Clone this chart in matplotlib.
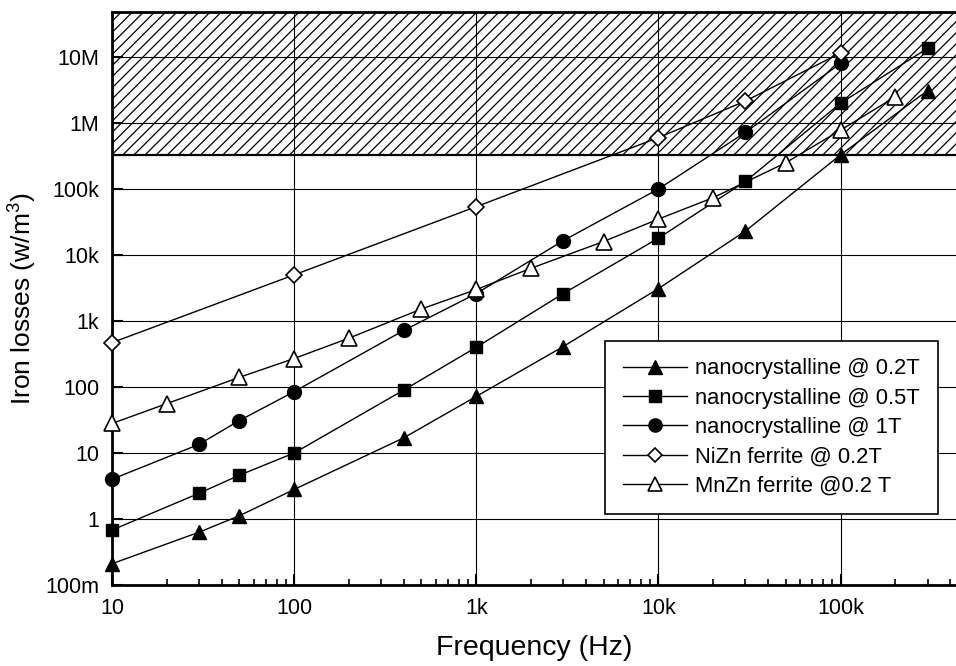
import matplotlib.pyplot as plt
from matplotlib.ticker import FixedLocator, FixedFormatter, LogLocator, NullLocator

plt.rcParams['font.family'] = ['Liberation Sans', 'DejaVu Sans']
plt.rcParams['mathtext.fontset'] = 'custom'
plt.rcParams['mathtext.rm'] = 'Liberation Sans'
plt.rcParams['hatch.linewidth'] = 0.9

# --- DATA ---
f_nano02 = [10, 30, 50, 100, 400, 1e3, 3e3, 1e4, 3e4, 1e5, 3e5]
p_nano02 = [0.21, 0.63, 1.12, 2.8, 17, 72, 410, 3100, 23000, 330000, 3.1e6]

f_nano05 = [10, 30, 50, 100, 400, 1e3, 3e3, 1e4, 3e4, 1e5, 3e5]
p_nano05 = [0.68, 2.45, 4.6, 10, 90, 400, 2600, 18000, 130000, 2.0e6, 13.5e6]

f_nano1 = [10, 30, 50, 100, 400, 1e3, 3e3, 1e4, 3e4, 1e5]
p_nano1 = [4.0, 13.5, 31, 85, 720, 2600, 16500, 100000, 720000, 8.0e6]

f_nizn = [10, 100, 1e3, 1e4, 3e4, 1e5]
p_nizn = [470, 5000, 54000, 600000, 2.15e6, 11.5e6]

f_mnzn = [10, 20, 50, 100, 200, 500, 1e3, 2e3, 5e3, 1e4, 2e4, 5e4, 1e5, 2e5]
p_mnzn = [28, 56, 140, 270, 550, 1520, 3000, 6300, 16000, 35000, 74000, 250000, 780000, 2.5e6]

labels = ['nanocrystalline @ 0.2T', 'nanocrystalline @ 0.5T',
          'nanocrystalline @ 1T', 'NiZn ferrite @ 0.2T', 'MnZn ferrite @0.2 T']

x_ticks = [10, 100, 1e3, 1e4, 1e5]
x_ticklabels = ['10', '100', '1k', '10k', '100k']
y_ticks = [0.1, 1, 10, 100, 1e3, 1e4, 1e5, 1e6, 1e7]
y_ticklabels = ['100m', '1', '10', '100', '1k', '10k', '100k', '1M', '10M']

HATCH_LOW = 3.3e5

# --- PLOT ---
fig = plt.figure(figsize=(9.56, 6.66), dpi=100)
ax = fig.add_axes([112 / 956, 81 / 666, 1 - 112 / 956 + 0.001, 573 / 666])

ax.set_xscale('log')
ax.set_yscale('log')
ax.set_xlim(10, 4.35e5)
ax.set_ylim(0.1, 4.8e7)

# forbidden zone
ax.axhspan(HATCH_LOW, 1e9, facecolor='white', edgecolor='black',
           hatch='///', linewidth=0, zorder=1)
ax.axhline(HATCH_LOW, color='black', linewidth=1.6, zorder=2)

ax.grid(True, which='major', color='black', linewidth=0.8, zorder=1.5)
ax.set_axisbelow(False)

line_kw = dict(color='black', linewidth=1.0, zorder=3, clip_on=False)
ax.plot(f_nano02, p_nano02, marker='^', markersize=10, markerfacecolor='black',
        markeredgecolor='black', label=labels[0], **line_kw)
ax.plot(f_nano05, p_nano05, marker='s', markersize=8.5, markerfacecolor='black',
        markeredgecolor='black', label=labels[1], **line_kw)
ax.plot(f_nano1, p_nano1, marker='o', markersize=10, markerfacecolor='black',
        markeredgecolor='black', label=labels[2], **line_kw)
ax.plot(f_nizn, p_nizn, marker='D', markersize=8, markerfacecolor='white',
        markeredgecolor='black', markeredgewidth=1.2, label=labels[3], **line_kw)
ax.plot(f_mnzn, p_mnzn, marker='^', markersize=11, markerfacecolor='white',
        markeredgecolor='black', markeredgewidth=1.2, label=labels[4], **line_kw)

ax.xaxis.set_major_locator(FixedLocator(x_ticks))
ax.xaxis.set_major_formatter(FixedFormatter(x_ticklabels))
ax.xaxis.set_minor_locator(LogLocator(base=10, subs=range(2, 10)))
ax.yaxis.set_major_locator(FixedLocator(y_ticks))
ax.yaxis.set_major_formatter(FixedFormatter(y_ticklabels))
ax.yaxis.set_minor_locator(NullLocator())

ax.tick_params(which='major', direction='in', length=8, width=1.5,
               labelsize=15.5, pad=9, top=False, right=False)
ax.tick_params(which='minor', direction='in', length=4, width=1.2, top=False)
for s in ['left', 'bottom', 'top']:
    ax.spines[s].set_linewidth(2.0)
ax.spines['right'].set_visible(False)

ax.set_xlabel('Frequency (Hz)', fontsize=20.5, labelpad=12)
ax.set_ylabel(r'Iron losses (w/m$^3$)', fontsize=19)
ax.yaxis.set_label_coords(-0.088, 0.5)

leg = ax.legend(loc='upper left', bbox_to_anchor=(0.584, 0.426), fontsize=15.8,
                frameon=True, fancybox=False, framealpha=1, edgecolor='black',
                handlelength=2.9, handletextpad=0.4, labelspacing=0.38,
                borderpad=0.8, borderaxespad=0, markerscale=0.95)
leg.get_frame().set_linewidth(1.2)
leg.set_zorder(5)

fig.savefig('out.png', dpi=100)
